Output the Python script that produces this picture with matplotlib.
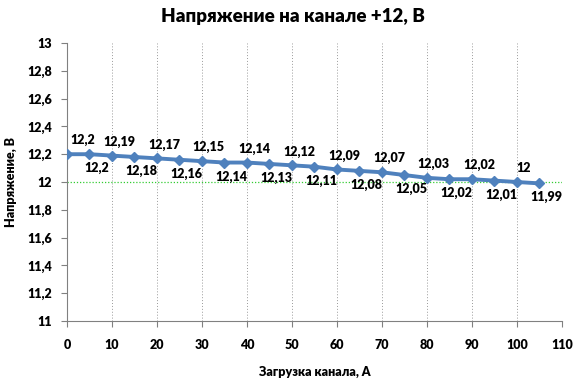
import matplotlib.pyplot as plt

plt.rcParams['font.family'] = ['Lato', 'DejaVu Sans']

# load current, A
load = [0, 5, 10, 15, 20, 25, 30, 35, 40, 45, 50, 55, 60, 65, 70, 75, 80, 85, 90, 95, 100, 105]
# +12 V rail voltage, V
volts = [12.2, 12.2, 12.19, 12.18, 12.17, 12.16, 12.15, 12.14, 12.14, 12.13, 12.12,
         12.11, 12.09, 12.08, 12.07, 12.05, 12.03, 12.02, 12.02, 12.01, 12.0, 11.99]
x_ticks = list(range(0, 111, 10))
y_ticks = [11, 11.2, 11.4, 11.6, 11.8, 12, 12.2, 12.4, 12.6, 12.8, 13]


def fmt(v):
    s = ('%.2f' % v).rstrip('0').rstrip('.')
    return s.replace('.', ',')


fig = plt.figure(figsize=(5.86, 3.83), dpi=100)
ax = fig.add_axes([0.1143, 0.1619, 0.8447, 0.7258])

ax.axhline(12, color='#33cc33', lw=0.9, ls=(0, (1, 1.5)), zorder=1)
ax.plot(load, volts, color='#4f81bd', lw=2.8, marker='D', ms=5, zorder=3)

for i, (x, v) in enumerate(zip(load, volts)):
    dy = 10 if i % 2 == 0 else -10
    dx = 11 if i == 0 else 5
    ax.annotate(fmt(v), (x, v), xytext=(dx, dy), textcoords='offset points',
                ha='center', va='center', fontsize=9, fontweight='heavy')

ax.set_xlim(0, 110)
ax.set_ylim(11, 13)
ax.set_xticks(x_ticks)
ax.set_yticks(y_ticks)
ax.set_xticklabels([str(t) for t in x_ticks])
ax.set_yticklabels([fmt(t) for t in y_ticks])
ax.xaxis.grid(True, color='#9a9a9a', ls=(0, (1, 2)), lw=0.7)
ax.tick_params(labelsize=9, colors='#808080', labelcolor='black', length=4, width=0.8)
for lbl in ax.get_xticklabels() + ax.get_yticklabels():
    lbl.set_fontweight('heavy')
ax.tick_params(axis='x', pad=9)
ax.tick_params(axis='y', pad=7)
for side in ['top', 'right']:
    ax.spines[side].set_visible(False)
for side in ['left', 'bottom']:
    ax.spines[side].set_color('#808080')

ax.set_xlabel('Загрузка канала, А', fontsize=9, fontweight='heavy', labelpad=11)
ax.set_ylabel('Напряжение, В', fontsize=9, fontweight='heavy', labelpad=7)
fig.suptitle('Напряжение на канале +12, В', fontsize=13.5, fontweight='heavy', y=0.98)

fig.savefig('out.png', dpi=100)
